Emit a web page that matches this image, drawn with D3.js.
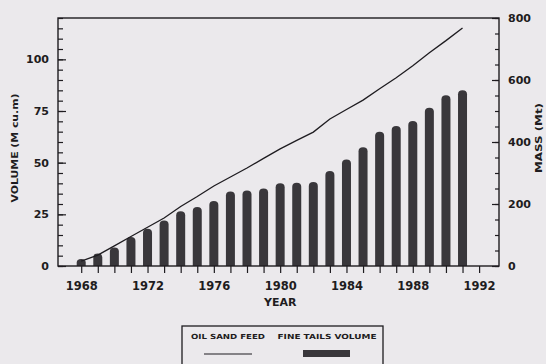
<!DOCTYPE html>
<html>
<head>
<meta charset="utf-8">
<script src="https://cdn.jsdelivr.net/npm/d3@7"></script>
<style>
  html, body { margin: 0; padding: 0; background: #ebe9ec; }
  svg { display: block; }
  text { font-family: "DejaVu Sans", "Liberation Sans", Arial, sans-serif; font-weight: bold; fill: #1e1c20; }
</style>
</head>
<body>
<svg id="chart" width="546" height="364"></svg>
<script>
// Cumulative fine tails volume (M cu.m) and oil sand feed (Mt), 1968-1991
const years = [1968, 1969, 1970, 1971, 1972, 1973, 1974, 1975, 1976, 1977, 1978, 1979,
               1980, 1981, 1982, 1983, 1984, 1985, 1986, 1987, 1988, 1989, 1990, 1991];
const fineTailsVolume = [3.4, 6, 9, 14, 18, 22, 26.5, 28.5, 31.5, 36, 36.5, 37.5,
                         40, 40.3, 40.6, 46, 51.5, 57.5, 65, 67.8, 70.2, 76.6, 82.6, 85];
const oilSandFeed = [16, 35, 65, 95, 125, 155, 192, 224, 258, 287, 316, 347,
                     378, 405, 432, 474, 505, 535, 572, 607, 646, 688, 727, 768];

const xTickYears = [1968, 1972, 1976, 1980, 1984, 1988, 1992];
const volumeTicks = [0, 25, 50, 75, 100];
const massTicks = [0, 200, 400, 600, 800];
const legendLabels = ["OIL SAND FEED", "FINE TAILS VOLUME"];

const svg = d3.select("#chart");
const plotL = 58, plotR = 499, plotT = 18, plotB = 266;
const ink = "#1e1c20";
const font = "'DejaVu Sans', 'Liberation Sans', Arial, sans-serif";

const x = d3.scaleLinear().domain([1966.6, 1993.2]).range([plotL, plotR]);
const yVol = d3.scaleLinear().domain([0, 120]).range([plotB, plotT]);
const yMass = d3.scaleLinear().domain([0, 800]).range([plotB, plotT]);

// Bars with rounded tops
const barW = 9, r = 4;
svg.append("g").selectAll("path")
  .data(years.map((yr, i) => ({ yr, v: fineTailsVolume[i] })))
  .join("path")
  .attr("fill", "#39373b")
  .attr("d", d => {
    const x0 = x(d.yr) - barW / 2, x1 = x(d.yr) + barW / 2;
    const yt = yVol(d.v), yb = plotB;
    const rr = Math.min(r, (yb - yt) / 2);
    return `M${x0},${yb} L${x0},${yt + rr} Q${x0},${yt} ${x0 + barW / 2},${yt} Q${x1},${yt} ${x1},${yt + rr} L${x1},${yb} Z`;
  });

// Oil sand feed line
const line = d3.line().x((d, i) => x(years[i])).y(d => yMass(d));
svg.append("path")
  .datum(oilSandFeed)
  .attr("fill", "none")
  .attr("stroke", ink)
  .attr("stroke-width", 1.3)
  .attr("d", line);

// Frame
svg.append("rect")
  .attr("x", plotL).attr("y", plotT)
  .attr("width", plotR - plotL).attr("height", plotB - plotT)
  .attr("fill", "none").attr("stroke", ink).attr("stroke-width", 1.4);

function styleAxis(size) {
  return g => {
    g.select(".domain").remove();
    g.selectAll("line").attr("stroke", ink).attr("stroke-width", 1.2);
    g.selectAll("text").attr("font-size", size).attr("fill", ink)
      .attr("font-family", font).attr("font-weight", "bold");
  };
}

// Left axis: major and minor ticks pointing inward
svg.append("g").attr("transform", `translate(${plotL},0)`)
  .call(d3.axisLeft(yVol).tickValues(d3.range(0, 121, 5)).tickSize(-5).tickFormat(""))
  .call(styleAxis(11));
svg.append("g").attr("transform", `translate(${plotL},0)`)
  .call(d3.axisLeft(yVol).tickValues(volumeTicks).tickSize(-8).tickPadding(9))
  .call(styleAxis(11));

// Right axis
svg.append("g").attr("transform", `translate(${plotR},0)`)
  .call(d3.axisRight(yMass).tickValues(d3.range(0, 801, 50)).tickSize(-4).tickFormat(""))
  .call(styleAxis(11));
svg.append("g").attr("transform", `translate(${plotR},0)`)
  .call(d3.axisRight(yMass).tickValues(massTicks).tickSize(-7).tickPadding(9))
  .call(styleAxis(11));

// Bottom axis: yearly ticks pointing outward
svg.append("g").attr("transform", `translate(0,${plotB})`)
  .call(d3.axisBottom(x).tickValues(d3.range(1968, 1993)).tickSize(7).tickFormat(""))
  .call(styleAxis(11));
svg.append("g").attr("transform", `translate(0,${plotB})`)
  .call(d3.axisBottom(x).tickValues(xTickYears).tickSize(0).tickPadding(16).tickFormat(d3.format("d")))
  .call(styleAxis(11.5));

// Axis titles
svg.append("text").attr("x", x(1980)).attr("y", 306)
  .attr("text-anchor", "middle").attr("font-size", 11).text("YEAR");
svg.append("text")
  .attr("transform", `translate(17.5,148) rotate(-90)`)
  .attr("text-anchor", "middle").attr("font-size", 9.5)
  .attr("textLength", 109).attr("lengthAdjust", "spacingAndGlyphs")
  .text("VOLUME (M cu.m)");
svg.append("text")
  .attr("transform", `translate(541.5,138) rotate(-90)`)
  .attr("text-anchor", "middle").attr("font-size", 9.5)
  .attr("textLength", 70).attr("lengthAdjust", "spacingAndGlyphs")
  .text("MASS (Mt)");

// Legend
const lg = svg.append("g");
lg.append("rect").attr("x", 182).attr("y", 326).attr("width", 201).attr("height", 45)
  .attr("fill", "none").attr("stroke", ink).attr("stroke-width", 1.3);
lg.append("text").attr("x", 228).attr("y", 339).attr("text-anchor", "middle")
  .attr("font-size", 7).attr("textLength", 74).attr("lengthAdjust", "spacingAndGlyphs")
  .text(legendLabels[0]);
lg.append("text").attr("x", 327).attr("y", 339).attr("text-anchor", "middle")
  .attr("font-size", 7).attr("textLength", 99).attr("lengthAdjust", "spacingAndGlyphs")
  .text(legendLabels[1]);
lg.append("line").attr("x1", 204).attr("x2", 252).attr("y1", 354).attr("y2", 354)
  .attr("stroke", ink).attr("stroke-width", 1.2);
lg.append("rect").attr("x", 303).attr("y", 350).attr("width", 47).attr("height", 7)
  .attr("fill", "#39373b");
</script>
</body>
</html>
